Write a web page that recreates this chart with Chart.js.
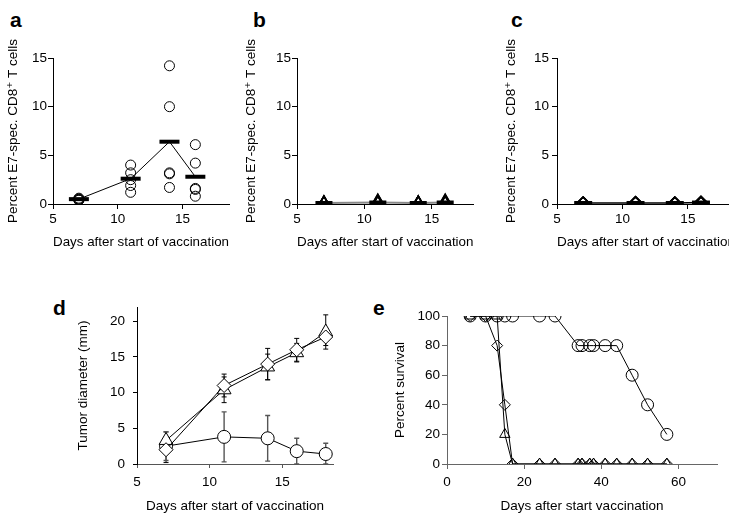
<!DOCTYPE html>
<html>
<head>
<meta charset="utf-8">
<script src="https://cdn.jsdelivr.net/npm/chart.js@4.4.0/dist/chart.umd.min.js"></script>
<style>
  body { margin: 0; width: 729px; height: 517px; overflow: hidden; background: #fff; position: relative; font-family: "Liberation Sans", Arial, sans-serif; }
  canvas { position: absolute; }
  .tag { position: absolute; font-weight: bold; font-size: 21px; line-height: 21px; color: #000; }
</style>
</head>
<body>
<div class="tag" style="left:10px;top:9px">a</div>
<div class="tag" style="left:253px;top:9px">b</div>
<div class="tag" style="left:511px;top:9px">c</div>
<div class="tag" style="left:53px;top:297px">d</div>
<div class="tag" style="left:373px;top:297px">e</div>

<canvas id="chartA" width="243" height="262" style="left:0;top:0"></canvas>
<canvas id="chartB" width="243" height="262" style="left:243px;top:0"></canvas>
<canvas id="chartC" width="262" height="262" style="left:486px;top:0"></canvas>
<canvas id="chartD" width="310" height="247" style="left:60px;top:270px"></canvas>
<canvas id="chartE" width="359" height="247" style="left:370px;top:270px"></canvas>

<script>
// days of the tetramer stainings (panels a-c)
const daysABC = [7, 11, 14, 16];
const dayTicks = [5, 10, 15];
const percentTicks = [0, 5, 10, 15];

// a: individual mice + mean
const cellsA = [
  [0.6, 0.5, 0.4, 0.5, 0.4],
  [4.0, 3.2, 2.5, 1.9, 1.2],
  [14.2, 10.0, 3.2, 3.1, 1.7],
  [6.1, 4.2, 1.6, 1.5, 0.8]
];
const meanA = [0.5, 2.6, 6.4, 2.8];

// b
const cellsB = [
  [0.1, 0.1, 0.1, 0.1, 0.05],
  [0.3, 0.25, 0.1, 0.1, 0.1],
  [0.1, 0.1, 0.1, 0.05, 0.1],
  [0.3, 0.25, 0.1, 0.1, 0.1]
];
const meanB = [0.1, 0.15, 0.1, 0.15];

// c
const cellsC = [
  [0.1, 0.1, 0.1, 0.1, 0.1],
  [0.15, 0.1, 0.1, 0.1, 0.15],
  [0.1, 0.1, 0.1, 0.1, 0.05],
  [0.2, 0.15, 0.1, 0.1, 0.1]
];
const meanC = [0.1, 0.1, 0.1, 0.15];

// d: tumor size
const daysD = [7, 11, 14, 16, 18];
const tumorTicks = [0, 5, 10, 15, 20];
const tumorCircle = [2.5, 3.8, 3.6, 1.8, 1.4];
const tumorCircleErr = [2.0, 3.5, 3.2, 1.8, 1.5];
const tumorTriangle = [3.3, 10.4, 13.6, 15.6, 18.5];
const tumorTriangleErr = [1.2, 1.8, 1.8, 1.3, 2.4];
const tumorDiamond = [2.0, 11.0, 14.0, 16.0, 17.8];
const tumorDiamondErr = [1.8, 1.6, 2.2, 1.6, 1.2];

// e: survival
const daysE = [6, 10, 13, 15, 17, 24, 28, 34, 35, 37, 38, 41, 44, 48, 52, 57];
const survivalTicksX = [0, 20, 40, 60];
const survivalTicksY = [0, 20, 40, 60, 80, 100];
const survCircle = [100, 100, 100, 100, 100, 100, 100, 80, 80, 80, 80, 80, 80, 60, 40, 20];
const survTriangle = [100, 100, 100, 20, 0, 0, 0, 0, 0, 0, 0, 0, 0, 0, 0, 0];
const survDiamond = [100, 100, 80, 40, 0, 0, 0, 0, 0, 0, 0, 0, 0, 0, 0, 0];

Chart.defaults.font.family = '"Liberation Sans", Arial, "DejaVu Sans", sans-serif';
Chart.defaults.font.size = 13.5;
Chart.defaults.color = '#000';

function pts(xs, ys) {
  return xs.map((x, i) => ({ x: x, y: ys[i] }));
}
function scatterPts(xs, groups) {
  const out = [];
  groups.forEach((g, i) => g.forEach(v => out.push({ x: xs[i], y: v })));
  return out;
}

// one axis, ticks fixed, size fixed so the plot box lands where it should
function axis(o) {
  return {
    type: 'linear',
    min: o.min,
    max: o.max,
    afterBuildTicks: s => { s.ticks = o.ticks.map(v => ({ value: v })); },
    afterFit: s => { if (o.width) s.width = o.width; if (o.height) s.height = o.height; },
    grid: { drawOnChartArea: false, drawTicks: true, tickLength: o.tl || 5, color: o.color || '#000' },
    border: { color: o.color || '#000', width: 1 },
    ticks: { padding: o.pad, color: '#000', maxRotation: 0 },
    title: { display: true, text: o.title, color: '#000', padding: { top: o.tpad || 0, bottom: 0 } }
  };
}

const baseOpts = (pad, x, y) => ({
  responsive: false,
  animation: false,
  layout: { padding: pad },
  plugins: { legend: { display: false }, tooltip: { enabled: false } },
  scales: { x: x, y: y }
});

// a
new Chart(document.getElementById('chartA'), {
  type: 'scatter',
  data: {
    datasets: [{
      data: pts(daysABC, meanA),
      showLine: true,
      borderColor: '#000',
      borderWidth: 1,
      pointStyle: 'line',
      pointRadius: 10,
      pointBorderWidth: 4,
      pointBorderColor: '#000'
    }, {
      data: scatterPts(daysABC, cellsA),
      pointStyle: 'circle',
      pointRadius: 5,
      pointBorderWidth: 1,
      pointBorderColor: '#000',
      pointBackgroundColor: 'rgba(0,0,0,0)'
    }]
  },
  options: baseOpts({ left: 0, top: 58, right: 5, bottom: 12 },
    axis({ min: 5, max: 18.6, ticks: dayTicks, height: 46, pad: 2, title: 'Days after start of vaccination' }),
    axis({ min: 0, max: 15, ticks: percentTicks, width: 53, pad: 1, tpad: 5, title: 'Percent E7-spec. CD8\u207A T cells' }))
});

// b
new Chart(document.getElementById('chartB'), {
  type: 'scatter',
  data: {
    datasets: [{
      data: pts(daysABC, meanB),
      showLine: true,
      borderColor: '#888',
      borderWidth: 2,
      pointStyle: 'line',
      pointRadius: 8.5,
      pointBorderWidth: 4,
      pointBorderColor: '#000'
    }, {
      data: scatterPts(daysABC, cellsB),
      pointStyle: 'triangle',
      pointRadius: 7,
      pointBorderWidth: 1.5,
      pointBorderColor: '#000',
      pointBackgroundColor: 'rgba(0,0,0,0)'
    }]
  },
  options: baseOpts({ left: 0, top: 58, right: 1, bottom: 12 },
    axis({ min: 5, max: 18.1, ticks: dayTicks, height: 46, pad: 2, title: 'Days after start of vaccination' }),
    axis({ min: 0, max: 15, ticks: percentTicks, width: 54, pad: 1, tpad: 0, title: 'Percent E7-spec. CD8\u207A T cells' }))
});

// c
new Chart(document.getElementById('chartC'), {
  type: 'scatter',
  data: {
    datasets: [{
      data: pts(daysABC, meanC),
      showLine: true,
      borderColor: '#000',
      borderWidth: 1.5,
      pointStyle: 'line',
      pointRadius: 9,
      pointBorderWidth: 4,
      pointBorderColor: '#000'
    }, {
      data: scatterPts(daysABC, cellsC),
      pointStyle: 'rectRot',
      pointRadius: 6,
      pointBorderWidth: 1.5,
      pointBorderColor: '#000',
      pointBackgroundColor: 'rgba(0,0,0,0)'
    }]
  },
  options: baseOpts({ left: 0, top: 58, right: 6, bottom: 12 },
    axis({ min: 5, max: 18.6, ticks: dayTicks, height: 46, pad: 2, title: 'Days after start of vaccination' }),
    axis({ min: 0, max: 15, ticks: percentTicks, width: 71, pad: 3, tpad: 17, title: 'Percent E7-spec. CD8\u207A T cells' }))
});

// error bars for d, drawn under the markers
const errorBars = {
  id: 'errorBars',
  beforeDatasetsDraw(chart) {
    const ctx = chart.ctx, xs = chart.scales.x, ys = chart.scales.y;
    chart.data.datasets.forEach(ds => {
      if (!ds.errors) return;
      ctx.save();
      ctx.strokeStyle = ds.errorColor;
      ctx.lineWidth = ds.errorWidth;
      ds.data.forEach((p, i) => {
        const e = ds.errors[i];
        if (!e) return;
        const px = xs.getPixelForValue(p.x);
        const top = ys.getPixelForValue(p.y + e);
        const bot = ys.getPixelForValue(Math.max(p.y - e, 0));
        ctx.beginPath();
        ctx.moveTo(px, top); ctx.lineTo(px, bot);
        ctx.moveTo(px - 2.5, top); ctx.lineTo(px + 2.5, top);
        ctx.moveTo(px - 2.5, bot); ctx.lineTo(px + 2.5, bot);
        ctx.stroke();
      });
      ctx.restore();
    });
  }
};

const dOpts = baseOpts({ left: 0, top: 37, right: 37, bottom: 3 },
  axis({ min: 5, max: 18.5, ticks: dayTicks, height: 50, tl: 4, pad: 6, color: '#555', title: 'Days after start of vaccination' }),
  axis({ min: 0, max: 22, ticks: tumorTicks, width: 77, tl: 4, pad: 8, tpad: 15, title: 'Tumor diameter (mm)' }));

new Chart(document.getElementById('chartD'), {
  type: 'scatter',
  data: {
    datasets: [{
      data: pts(daysD, tumorDiamond),
      errors: tumorDiamondErr, errorColor: '#000', errorWidth: 1,
      showLine: true, borderColor: '#000', borderWidth: 1,
      pointStyle: 'rectRot', pointRadius: 7, pointBorderWidth: 1,
      pointBorderColor: '#000', pointBackgroundColor: '#fff'
    }, {
      data: pts(daysD, tumorTriangle),
      errors: tumorTriangleErr, errorColor: '#000', errorWidth: 1,
      showLine: true, borderColor: '#000', borderWidth: 1,
      pointStyle: 'triangle', pointRadius: 8, pointBorderWidth: 1,
      pointBorderColor: '#000', pointBackgroundColor: '#fff'
    }, {
      data: pts(daysD, tumorCircle),
      errors: tumorCircleErr, errorColor: '#555', errorWidth: 1.4,
      showLine: true, borderColor: '#000', borderWidth: 1,
      pointStyle: 'circle', pointRadius: 6.5, pointBorderWidth: 1,
      pointBorderColor: '#000', pointBackgroundColor: '#fff'
    }]
  },
  options: dOpts,
  plugins: [errorBars]
});

// e
new Chart(document.getElementById('chartE'), {
  type: 'scatter',
  data: {
    datasets: [{
      data: pts(daysE, survTriangle),
      showLine: true, borderColor: '#000', borderWidth: 1,
      pointStyle: 'triangle', pointRadius: 6, pointBorderWidth: 1,
      pointBorderColor: '#000', pointBackgroundColor: 'rgba(0,0,0,0)'
    }, {
      data: pts(daysE, survDiamond),
      showLine: true, borderColor: '#000', borderWidth: 1,
      pointStyle: 'rectRot', pointRadius: 5.5, pointBorderWidth: 1,
      pointBorderColor: '#000', pointBackgroundColor: 'rgba(0,0,0,0)'
    }, {
      data: pts(daysE, survCircle),
      showLine: true, borderColor: '#000', borderWidth: 1,
      pointStyle: 'circle', pointRadius: 6, pointBorderWidth: 1,
      pointBorderColor: '#000', pointBackgroundColor: 'rgba(0,0,0,0)'
    }]
  },
  options: baseOpts({ left: 0, top: 46, right: 12, bottom: 3 },
    axis({ min: 0, max: 70, ticks: survivalTicksX, height: 50, pad: 5, color: '#666', title: 'Days after start vaccination' }),
    axis({ min: 0, max: 100, ticks: survivalTicksY, width: 77, pad: 2, tpad: 22, color: '#666', title: 'Percent survival' }))
});
</script>
</body>
</html>
